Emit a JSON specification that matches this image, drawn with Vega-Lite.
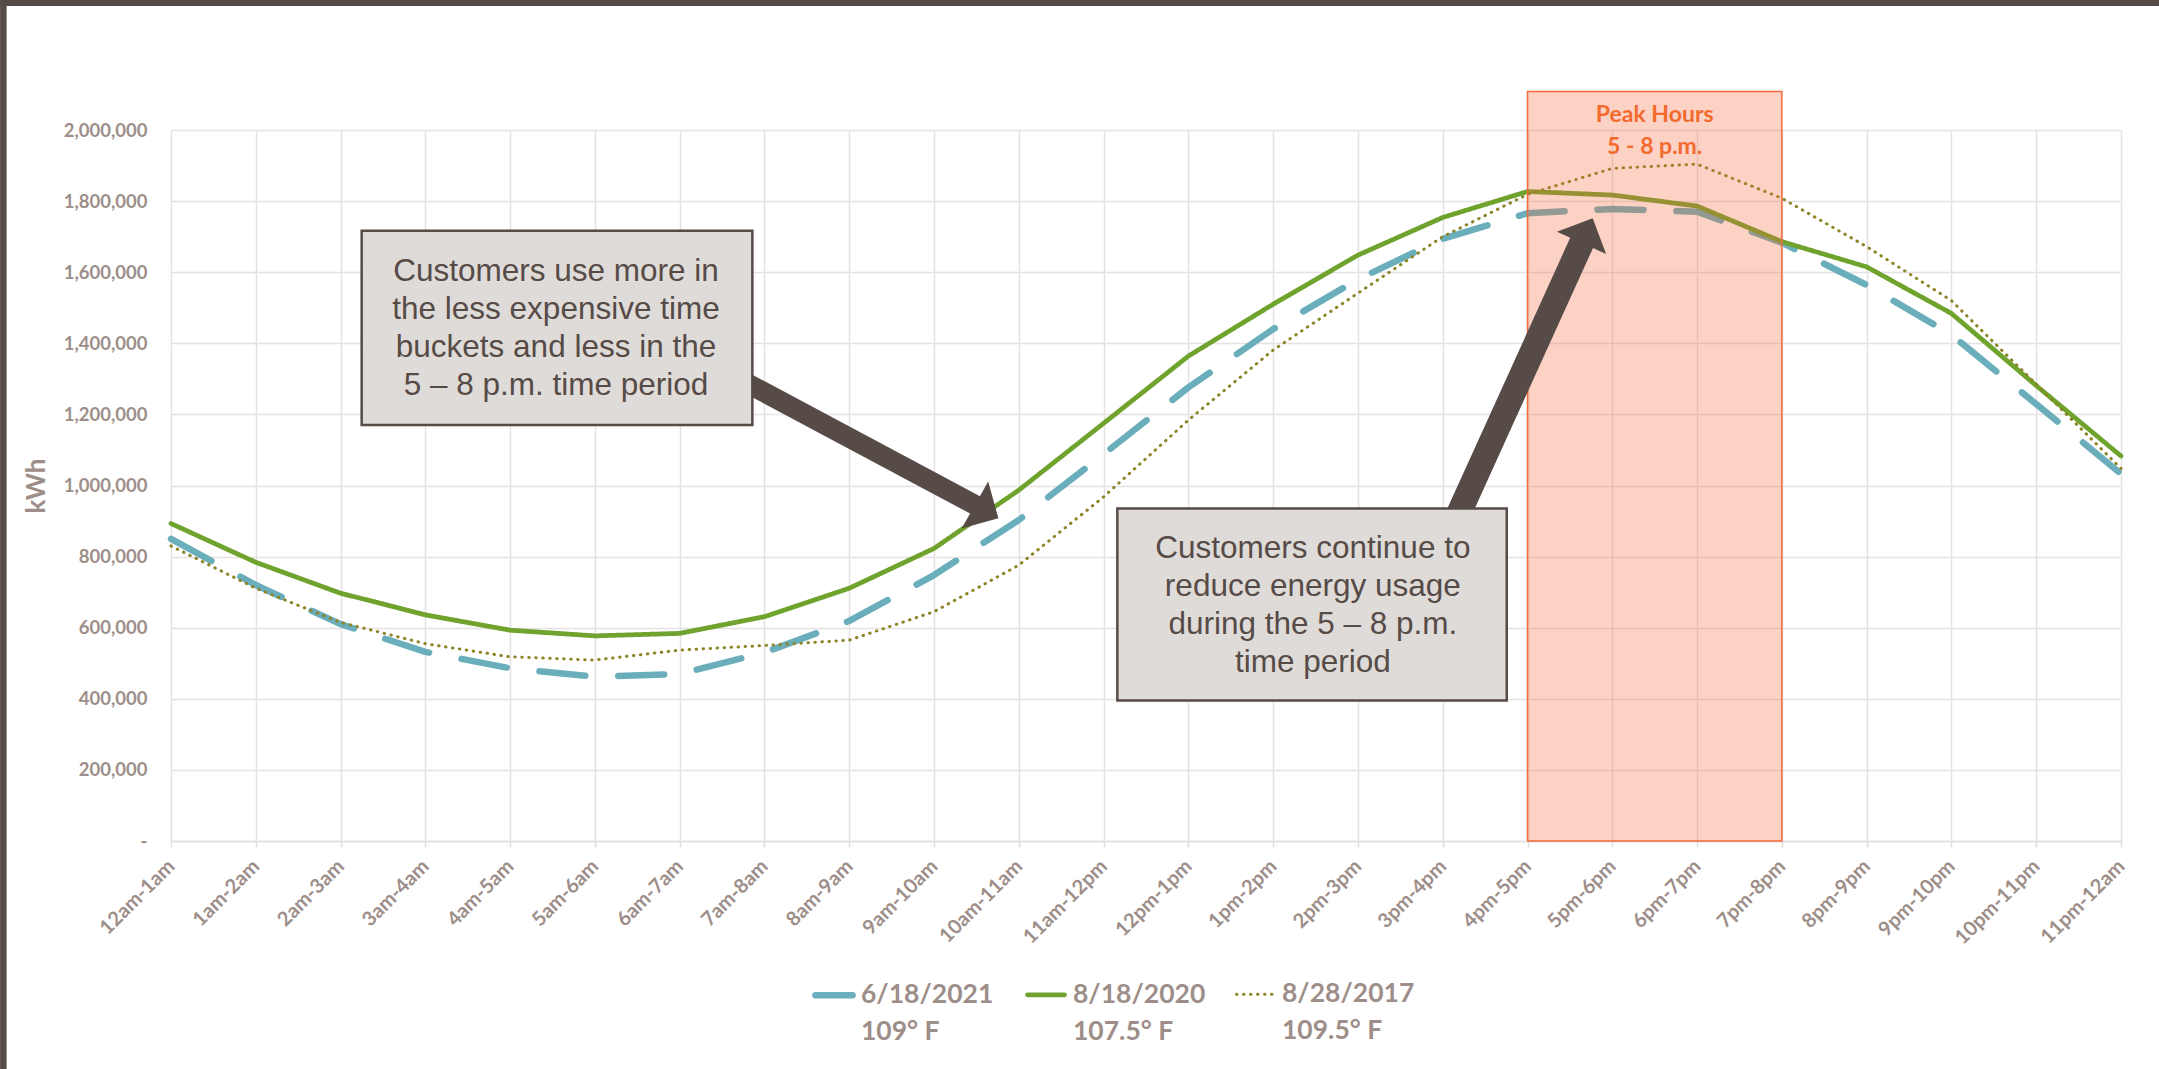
{
  "$schema": "https://vega.github.io/schema/vega-lite/v6.json",
  "width": 1950,
  "height": 711,
  "autosize": {"type": "none"},
  "padding": {"left": 171, "top": 130, "right": 38, "bottom": 228},
  "background": "white",
  "config": {"view": {"stroke": null}},
  "datasets": {
    "usage": [
      {"hour": 0, "slot": "12am-1am", "series": "6/18/2021", "kWh": 850000},
      {"hour": 1, "slot": "1am-2am", "series": "6/18/2021", "kWh": 720000},
      {"hour": 2, "slot": "2am-3am", "series": "6/18/2021", "kWh": 610000},
      {"hour": 3, "slot": "3am-4am", "series": "6/18/2021", "kWh": 532000},
      {"hour": 4, "slot": "4am-5am", "series": "6/18/2021", "kWh": 486000},
      {"hour": 5, "slot": "5am-6am", "series": "6/18/2021", "kWh": 462000},
      {"hour": 6, "slot": "6am-7am", "series": "6/18/2021", "kWh": 470000},
      {"hour": 7, "slot": "7am-8am", "series": "6/18/2021", "kWh": 530000},
      {"hour": 8, "slot": "8am-9am", "series": "6/18/2021", "kWh": 619000},
      {"hour": 9, "slot": "9am-10am", "series": "6/18/2021", "kWh": 748000},
      {"hour": 10, "slot": "10am-11am", "series": "6/18/2021", "kWh": 903000},
      {"hour": 11, "slot": "11am-12pm", "series": "6/18/2021", "kWh": 1088000},
      {"hour": 12, "slot": "12pm-1pm", "series": "6/18/2021", "kWh": 1276000},
      {"hour": 13, "slot": "1pm-2pm", "series": "6/18/2021", "kWh": 1440000},
      {"hour": 14, "slot": "2pm-3pm", "series": "6/18/2021", "kWh": 1580000},
      {"hour": 15, "slot": "3pm-4pm", "series": "6/18/2021", "kWh": 1694000},
      {"hour": 16, "slot": "4pm-5pm", "series": "6/18/2021", "kWh": 1766000},
      {"hour": 17, "slot": "5pm-6pm", "series": "6/18/2021", "kWh": 1778000},
      {"hour": 18, "slot": "6pm-7pm", "series": "6/18/2021", "kWh": 1770000},
      {"hour": 19, "slot": "7pm-8pm", "series": "6/18/2021", "kWh": 1683000},
      {"hour": 20, "slot": "8pm-9pm", "series": "6/18/2021", "kWh": 1564000},
      {"hour": 21, "slot": "9pm-10pm", "series": "6/18/2021", "kWh": 1424000},
      {"hour": 22, "slot": "10pm-11pm", "series": "6/18/2021", "kWh": 1229000},
      {"hour": 23, "slot": "11pm-12am", "series": "6/18/2021", "kWh": 1033000},
      {"hour": 0, "slot": "12am-1am", "series": "8/18/2020", "kWh": 893000},
      {"hour": 1, "slot": "1am-2am", "series": "8/18/2020", "kWh": 784000},
      {"hour": 2, "slot": "2am-3am", "series": "8/18/2020", "kWh": 697000},
      {"hour": 3, "slot": "3am-4am", "series": "8/18/2020", "kWh": 636000},
      {"hour": 4, "slot": "4am-5am", "series": "8/18/2020", "kWh": 593000},
      {"hour": 5, "slot": "5am-6am", "series": "8/18/2020", "kWh": 577000},
      {"hour": 6, "slot": "6am-7am", "series": "8/18/2020", "kWh": 584000},
      {"hour": 7, "slot": "7am-8am", "series": "8/18/2020", "kWh": 631000},
      {"hour": 8, "slot": "8am-9am", "series": "8/18/2020", "kWh": 711000},
      {"hour": 9, "slot": "9am-10am", "series": "8/18/2020", "kWh": 823000},
      {"hour": 10, "slot": "10am-11am", "series": "8/18/2020", "kWh": 987000},
      {"hour": 11, "slot": "11am-12pm", "series": "8/18/2020", "kWh": 1175000},
      {"hour": 12, "slot": "12pm-1pm", "series": "8/18/2020", "kWh": 1364000},
      {"hour": 13, "slot": "1pm-2pm", "series": "8/18/2020", "kWh": 1510000},
      {"hour": 14, "slot": "2pm-3pm", "series": "8/18/2020", "kWh": 1648000},
      {"hour": 15, "slot": "3pm-4pm", "series": "8/18/2020", "kWh": 1754000},
      {"hour": 16, "slot": "4pm-5pm", "series": "8/18/2020", "kWh": 1827000},
      {"hour": 17, "slot": "5pm-6pm", "series": "8/18/2020", "kWh": 1817000},
      {"hour": 18, "slot": "6pm-7pm", "series": "8/18/2020", "kWh": 1786000},
      {"hour": 19, "slot": "7pm-8pm", "series": "8/18/2020", "kWh": 1686000},
      {"hour": 20, "slot": "8pm-9pm", "series": "8/18/2020", "kWh": 1615000},
      {"hour": 21, "slot": "9pm-10pm", "series": "8/18/2020", "kWh": 1484000},
      {"hour": 22, "slot": "10pm-11pm", "series": "8/18/2020", "kWh": 1281000},
      {"hour": 23, "slot": "11pm-12am", "series": "8/18/2020", "kWh": 1083000},
      {"hour": 0, "slot": "12am-1am", "series": "8/28/2017", "kWh": 830000},
      {"hour": 1, "slot": "1am-2am", "series": "8/28/2017", "kWh": 711000},
      {"hour": 2, "slot": "2am-3am", "series": "8/28/2017", "kWh": 615000},
      {"hour": 3, "slot": "3am-4am", "series": "8/28/2017", "kWh": 555000},
      {"hour": 4, "slot": "4am-5am", "series": "8/28/2017", "kWh": 518000},
      {"hour": 5, "slot": "5am-6am", "series": "8/28/2017", "kWh": 509000},
      {"hour": 6, "slot": "6am-7am", "series": "8/28/2017", "kWh": 537000},
      {"hour": 7, "slot": "7am-8am", "series": "8/28/2017", "kWh": 550000},
      {"hour": 8, "slot": "8am-9am", "series": "8/28/2017", "kWh": 565000},
      {"hour": 9, "slot": "9am-10am", "series": "8/28/2017", "kWh": 645000},
      {"hour": 10, "slot": "10am-11am", "series": "8/28/2017", "kWh": 776000},
      {"hour": 11, "slot": "11am-12pm", "series": "8/28/2017", "kWh": 968000},
      {"hour": 12, "slot": "12pm-1pm", "series": "8/28/2017", "kWh": 1184000},
      {"hour": 13, "slot": "1pm-2pm", "series": "8/28/2017", "kWh": 1381000},
      {"hour": 14, "slot": "2pm-3pm", "series": "8/28/2017", "kWh": 1541000},
      {"hour": 15, "slot": "3pm-4pm", "series": "8/28/2017", "kWh": 1700000},
      {"hour": 16, "slot": "4pm-5pm", "series": "8/28/2017", "kWh": 1819000},
      {"hour": 17, "slot": "5pm-6pm", "series": "8/28/2017", "kWh": 1892000},
      {"hour": 18, "slot": "6pm-7pm", "series": "8/28/2017", "kWh": 1904000},
      {"hour": 19, "slot": "7pm-8pm", "series": "8/28/2017", "kWh": 1808000},
      {"hour": 20, "slot": "8pm-9pm", "series": "8/28/2017", "kWh": 1672000},
      {"hour": 21, "slot": "9pm-10pm", "series": "8/28/2017", "kWh": 1520000},
      {"hour": 22, "slot": "10pm-11pm", "series": "8/28/2017", "kWh": 1285000},
      {"hour": 23, "slot": "11pm-12am", "series": "8/28/2017", "kWh": 1048000}
    ]
  },
  "layer": [
    {
      "data": {"name": "usage"},
      "mark": {"type": "line", "strokeCap": "round", "strokeJoin": "round"},
      "encoding": {
        "x": {
          "field": "hour", "type": "quantitative",
          "scale": {"domain": [0, 23], "nice": false, "zero": false},
          "axis": {
            "values": [0,1,2,3,4,5,6,7,8,9,10,11,12,13,14,15,16,17,18,19,20,21,22,23],
            "labelExpr": "['12am-1am','1am-2am','2am-3am','3am-4am','4am-5am','5am-6am','6am-7am','7am-8am','8am-9am','9am-10am','10am-11am','11am-12pm','12pm-1pm','1pm-2pm','2pm-3pm','3pm-4pm','4pm-5pm','5pm-6pm','6pm-7pm','7pm-8pm','8pm-9pm','9pm-10pm','10pm-11pm','11pm-12am'][datum.value]",
            "labelAngle": -45, "labelAlign": "right", "labelBaseline": "middle",
            "labelFont": "Lato", "labelFontWeight": "bold", "labelFontSize": 20, "labelColor": "#9D8E89",
            "labelPadding": 16, "labelOverlap": false, "labelFlush": false, "labelBound": false,
            "ticks": true, "tickSize": 6, "tickColor": "#E3DEDE", "tickWidth": 1.5,
            "domain": true, "domainColor": "#E3DEDE", "domainWidth": 1.5,
            "grid": true, "gridColor": "#E6E2E2", "gridWidth": 1.5,
            "title": null
          }
        },
        "y": {
          "field": "kWh", "type": "quantitative",
          "scale": {"domain": [0, 2000000], "nice": false},
          "axis": {
            "values": [0,200000,400000,600000,800000,1000000,1200000,1400000,1600000,1800000,2000000],
            "labelExpr": "datum.value == 0 ? '-\u00a0\u00a0\u00a0' : format(datum.value, ',')",
            "labelFont": "Lato", "labelFontWeight": "bold", "labelFontSize": 18.5, "labelColor": "#9D8E89",
            "labelPadding": 24, "ticks": false, "domain": false,
            "grid": true, "gridColor": "#E6E2E2", "gridWidth": 1.5,
            "title": "kWh", "titleFont": "Lato", "titleFontSize": 26, "titleFontWeight": "bold",
            "titleColor": "#9D8E89", "titlePadding": 14
          }
        },
        "color": {
          "field": "series", "type": "nominal",
          "scale": {"domain": ["6/18/2021", "8/18/2020", "8/28/2017"], "range": ["#6BAEBB", "#6FA32E", "#8B8526"]},
          "legend": {
            "orient": "none", "legendX": 641, "legendY": 843,
            "direction": "horizontal", "columns": 3, "title": null, "padding": 0,
            "labelExpr": "datum.label == '6/18/2021' ? ['6/18/2021', '109° F'] : datum.label == '8/18/2020' ? ['8/18/2020', '107.5° F'] : ['8/28/2017', '109.5° F']",
            "labelFont": "Lato", "labelFontWeight": "bold", "labelFontSize": 26.5, "labelColor": "#9D8E89",
            "labelLimit": 400, "labelOffset": 5, "columnPadding": 24,
            "symbolType": "stroke", "symbolSize": 1369,
            "encoding": {
              "labels": {"lineHeight": {"value": 37}},
              "symbols": {"strokeCap": {"value": "round"}}
            }
          }
        },
        "strokeDash": {
          "field": "series", "type": "nominal",
          "scale": {"domain": ["6/18/2021", "8/18/2020", "8/28/2017"], "range": [[46, 33], [1, 0], [0.5, 6.5]]}
        },
        "strokeWidth": {
          "field": "series", "type": "nominal",
          "scale": {"domain": ["6/18/2021", "8/18/2020", "8/28/2017"], "range": [6.5, 3, 3.5]}
        }
      }
    },
    {
      "data": {"values": [{"start": 16, "end": 19, "low": 0, "high": 2108000}]},
      "mark": {"type": "rect", "fill": "#F26B3A", "fillOpacity": 0.3, "stroke": "#F26B3A", "strokeWidth": 1.5, "clip": false},
      "encoding": {
        "x": {"field": "start", "type": "quantitative", "scale": {"domain": [0, 23], "nice": false, "zero": false}},
        "x2": {"field": "end"},
        "y": {"field": "low", "type": "quantitative", "scale": {"domain": [0, 2000000], "nice": false}},
        "y2": {"field": "high"}
      }
    },
    {
      "data": {"values": [{"x": 17.5, "y": 2043000, "lines": ["Peak Hours", "5 - 8 p.m."]}]},
      "mark": {"type": "text", "font": "Lato", "fontWeight": "bold", "fontSize": 23, "color": "#F26A2E", "align": "center", "baseline": "middle", "lineHeight": 32, "clip": false},
      "encoding": {
        "x": {"field": "x", "type": "quantitative", "scale": {"domain": [0, 23], "nice": false, "zero": false}},
        "y": {"field": "y", "type": "quantitative", "scale": {"domain": [0, 2000000], "nice": false}},
        "text": {"field": "lines", "type": "nominal"}
      }
    },
    {
      "data": {"values": [{"x1": 6.529, "y1": 1321500, "x2": 9.509, "y2": 942300}]},
      "mark": {"type": "rule", "color": "#564B47", "strokeWidth": 20, "strokeCap": "butt"},
      "encoding": {
        "x": {"field": "x1", "type": "quantitative", "scale": {"domain": [0, 23], "nice": false, "zero": false}},
        "x2": {"field": "x2"},
        "y": {"field": "y1", "type": "quantitative", "scale": {"domain": [0, 2000000], "nice": false}},
        "y2": {"field": "y2"}
      }
    },
    {
      "data": {"values": [{"x": 9.759, "y": 907700}]},
      "mark": {"type": "point", "shape": "M0,0 L-1,-1 L-1,1 Z", "size": 2916, "angle": 29.5, "filled": true, "color": "#564B47", "opacity": 1, "strokeWidth": 0},
      "encoding": {
        "x": {"field": "x", "type": "quantitative", "scale": {"domain": [0, 23], "nice": false, "zero": false}},
        "y": {"field": "y", "type": "quantitative", "scale": {"domain": [0, 2000000], "nice": false}}
      }
    },
    {
      "data": {"values": [{"x1": 15.067, "y1": 857100, "x2": 16.648, "y2": 1687800}]},
      "mark": {"type": "rule", "color": "#564B47", "strokeWidth": 25, "strokeCap": "butt"},
      "encoding": {
        "x": {"field": "x1", "type": "quantitative", "scale": {"domain": [0, 23], "nice": false, "zero": false}},
        "x2": {"field": "x2"},
        "y": {"field": "y1", "type": "quantitative", "scale": {"domain": [0, 2000000], "nice": false}},
        "y2": {"field": "y2"}
      }
    },
    {
      "data": {"values": [{"x": 16.769, "y": 1751700}]},
      "mark": {"type": "point", "shape": "M0,0 L-1,-1 L-1,1 Z", "size": 2916, "angle": 294.4, "filled": true, "color": "#564B47", "opacity": 1, "strokeWidth": 0},
      "encoding": {
        "x": {"field": "x", "type": "quantitative", "scale": {"domain": [0, 23], "nice": false, "zero": false}},
        "y": {"field": "y", "type": "quantitative", "scale": {"domain": [0, 2000000], "nice": false}}
      }
    },
    {
      "data": {"values": [
        {"x1": 2.249, "x2": 6.857, "y1": 1170200, "y2": 1716800},
        {"x1": 11.162, "x2": 15.755, "y1": 395200, "y2": 935300}
      ]},
      "mark": {"type": "rect", "fill": "#DFDBD8", "stroke": "#564B47", "strokeWidth": 2.5},
      "encoding": {
        "x": {"field": "x1", "type": "quantitative", "scale": {"domain": [0, 23], "nice": false, "zero": false}},
        "x2": {"field": "x2"},
        "y": {"field": "y1", "type": "quantitative", "scale": {"domain": [0, 2000000], "nice": false}},
        "y2": {"field": "y2"}
      }
    },
    {
      "data": {"values": [
        {"x": 4.541, "y": 1600000, "lines": ["Customers use more in", "the less expensive time", "buckets and less in the", "5 – 8 p.m. time period"]},
        {"x": 13.468, "y": 821700, "lines": ["Customers continue to", "reduce energy usage", "during the 5 – 8 p.m.", "time period"]}
      ]},
      "mark": {"type": "text", "font": "Liberation Sans", "fontSize": 31.5, "color": "#564B47", "align": "center", "baseline": "middle", "lineHeight": 38},
      "encoding": {
        "x": {"field": "x", "type": "quantitative", "scale": {"domain": [0, 23], "nice": false, "zero": false}},
        "y": {"field": "y", "type": "quantitative", "scale": {"domain": [0, 2000000], "nice": false}},
        "text": {"field": "lines", "type": "nominal"}
      }
    },
    {
      "data": {"values": [
        {"x1": -2.02, "x2": 23.45, "y1": 2357700, "y2": 2357700},
        {"x1": -1.9775, "x2": -1.9775, "y1": 2365700, "y2": -641400}
      ]},
      "mark": {"type": "rule", "color": "#564B47", "strokeWidth": 6.5, "clip": false},
      "encoding": {
        "x": {"field": "x1", "type": "quantitative", "scale": {"domain": [0, 23], "nice": false, "zero": false}},
        "x2": {"field": "x2"},
        "y": {"field": "y1", "type": "quantitative", "scale": {"domain": [0, 2000000], "nice": false}},
        "y2": {"field": "y2"}
      }
    }
  ]
}
